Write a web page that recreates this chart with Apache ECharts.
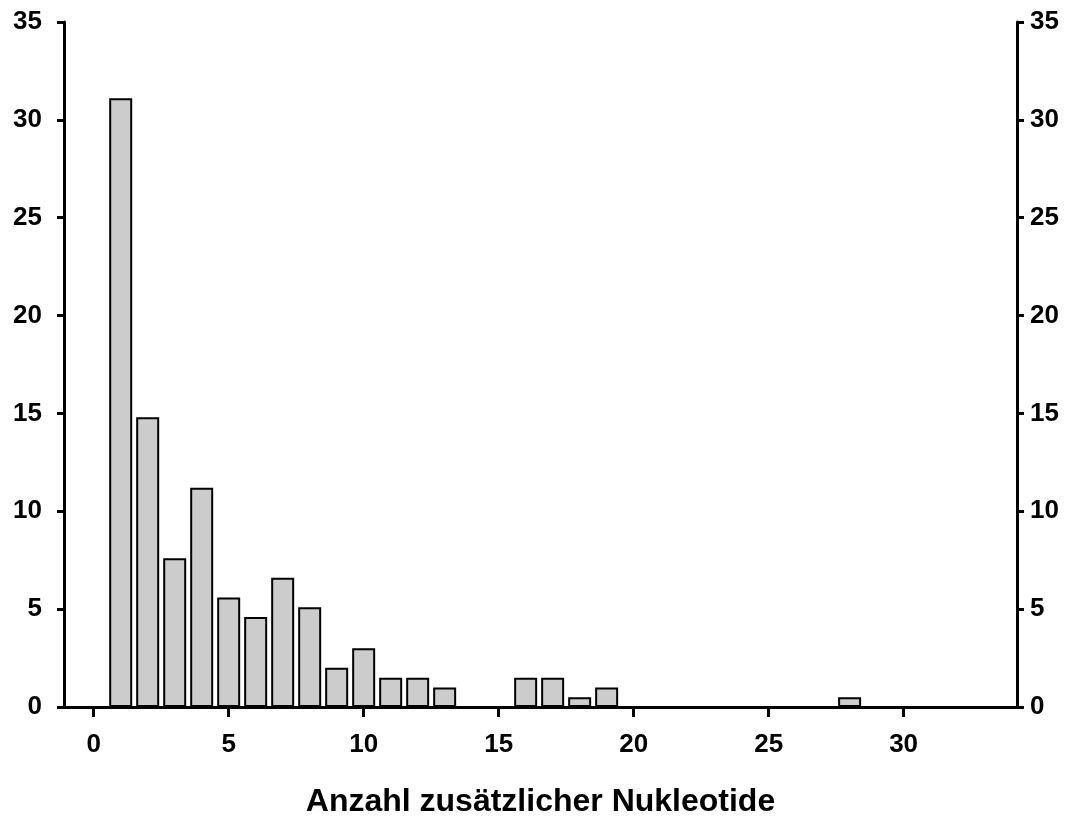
<!DOCTYPE html>
<html>
<head>
<meta charset="utf-8">
<script src="https://cdn.jsdelivr.net/npm/echarts@6/dist/echarts.min.js"></script>
<style>
  html, body { margin: 0; padding: 0; background: #fff; }
  #chart { width: 1075px; height: 818px; }
</style>
</head>
<body>
<div id="chart"></div>
<script>
// Anzahl zusätzlicher Nukleotide -> Häufigkeit
const nucleotides = [1, 2, 3, 4, 5, 6, 7, 8, 9, 10, 11, 12, 13, 16, 17, 18, 19, 28];
const frequency = [31.1, 14.8, 7.6, 11.2, 5.6, 4.6, 6.6, 5.1, 2.0, 3.0, 1.5, 1.5, 1.0, 1.5, 1.5, 0.5, 1.0, 0.5];
const xTicks = [0, 5, 10, 15, 20, 25, 30];

const chart = echarts.init(document.getElementById('chart'));
const font = 'Liberation Sans, Arial, sans-serif';

function yAxisOf(position, margin) {
  return {
    type: 'value',
    position: position,
    min: 0,
    max: 35,
    interval: 5,
    axisLine: { show: true, onZero: false, lineStyle: { color: '#000', width: 3 } },
    axisTick: { show: true, length: 7, lineStyle: { color: '#000', width: 3 } },
    axisLabel: { color: '#000', fontSize: 26, fontWeight: 'bold', fontFamily: font, margin: margin },
    splitLine: { show: false }
  };
}

chart.setOption({
  animation: false,
  backgroundColor: '#fff',
  grid: { left: 64, right: 58, top: 22, bottom: 111, containLabel: false, outerBoundsMode: 'none' },
  xAxis: {
    type: 'value',
    min: -1.1,
    max: 34.2,
    name: 'Anzahl zusätzlicher Nukleotide',
    nameLocation: 'middle',
    nameGap: 79,
    nameTextStyle: { color: '#000', fontSize: 32, fontWeight: 'bold', fontFamily: font },
    axisLine: { show: true, onZero: false, lineStyle: { color: '#000', width: 3 } },
    axisTick: { show: true, length: 10, customValues: xTicks, lineStyle: { color: '#000', width: 3 } },
    axisLabel: { color: '#000', fontSize: 26, fontWeight: 'bold', fontFamily: font, margin: 25, customValues: xTicks },
    splitLine: { show: false }
  },
  yAxis: [yAxisOf('left', 22), yAxisOf('right', 13)],
  series: [{
    type: 'bar',
    barWidth: 23,
    data: nucleotides.map((n, i) => [n, frequency[i]]),
    itemStyle: { color: '#cccccc', borderColor: '#000', borderWidth: 2 }
  }]
});
</script>
</body>
</html>
